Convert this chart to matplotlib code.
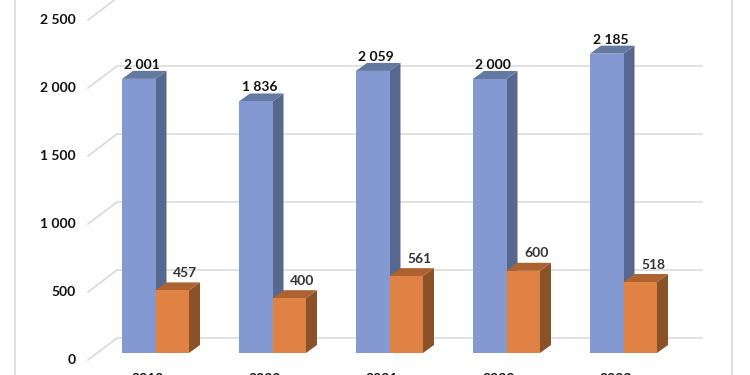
import matplotlib
matplotlib.use('Agg')
import matplotlib.pyplot as plt
from matplotlib.patches import Polygon

years = ['2019', '2020', '2021', '2022', '2023']
blue_values = [2001, 1836, 2059, 2000, 2185]
orange_values = [457, 400, 561, 600, 518]
y_ticks = [0, 500, 1000, 1500, 2000, 2500]

W, H = 750, 375
PX_CAT = 117.0
PX_VAL = 0.137
X0_PX, Y0_PX = 155.5, 353.0
# the wall is a little further away, so its scale is a little smaller
WALL_SCALE = 0.136 / PX_VAL

# depth of the fake 3d, in data units
DX = 11 / PX_CAT
DY = 8 / PX_VAL
BAR_W = 33.5 / PX_CAT


def fmt(v):
    return f'{v:,}'.replace(',', ' ')


def px_x(n):
    return n / PX_CAT


def px_y(n):
    return n / PX_VAL


# Draws one box with its front, top and side faces.
def draw_bar(ax, x, w, v, front, top, side):
    ax.add_patch(Polygon([(x + w, 0), (x + w + DX, DY), (x + w + DX, v + DY), (x + w, v)],
                         fc=side, ec='none', zorder=3))
    ax.add_patch(Polygon([(x, v), (x + DX, v + DY), (x + w + DX, v + DY), (x + w, v)],
                         fc=top, ec='none', zorder=3))
    ax.add_patch(Polygon([(x, 0), (x + w, 0), (x + w, v), (x, v)],
                         fc=front, ec='none', zorder=3))


plt.rcParams['font.family'] = ['Lato', 'DejaVu Sans']
fig = plt.figure(figsize=(W / 100, H / 100), dpi=100)
ax = fig.add_axes([0, 0, 1, 1])
ax.set_xlim(-X0_PX / PX_CAT, (W - X0_PX) / PX_CAT)
ax.set_ylim((Y0_PX - H) / PX_VAL, Y0_PX / PX_VAL)
ax.axis('off')

# outer chart border
left = ax.get_xlim()[0]
ax.plot([left + px_x(15)] * 2, ax.get_ylim(), color='#d9d9d9', lw=1.2, zorder=1)
ax.plot([left + px_x(732)] * 2, ax.get_ylim(), color='#d9d9d9', lw=1.2, zorder=1)

# back wall grid and floor ticks
x_front = left + px_x(88)
x_back = left + px_x(117)
x_end = left + px_x(702)
for t in y_ticks:
    y_front = t * WALL_SCALE - px_y(7)
    y_back = t * WALL_SCALE + px_y(15)
    ax.plot([x_front, x_back], [y_front, y_back], color='#d9d9d9', lw=1.2, zorder=1)
    ax.plot([x_back, x_end], [y_back, y_back], color='#dedede', lw=1.3, zorder=1)
    ax.text(left + px_x(76), y_front - px_y(0.5), fmt(t), ha='right', va='center',
            fontsize=10, fontweight='bold', color='#111111')

for i, year in enumerate(years):
    draw_bar(ax, i - BAR_W, BAR_W, blue_values[i], '#8499d2', '#64799f', '#56688f')
    draw_bar(ax, i, BAR_W, orange_values[i], '#df8243', '#ad6231', '#8c5227')
    ax.text(i - BAR_W / 2 + px_x(3.5), blue_values[i] + px_y(14), fmt(blue_values[i]),
            ha='center', va='center', fontsize=10, fontweight='bold', color='#111111', zorder=4)
    ax.text(i + BAR_W / 2 + px_x(13), orange_values[i] + px_y(17.5), fmt(orange_values[i]),
            ha='center', va='center', fontsize=10, fontweight='bold', color='#333333', zorder=4)
    ax.text(i - px_x(8), -px_y(26), year, ha='center', va='center',
            fontsize=10, fontweight='bold', color='#111111')

fig.savefig('out.png', dpi=100)
